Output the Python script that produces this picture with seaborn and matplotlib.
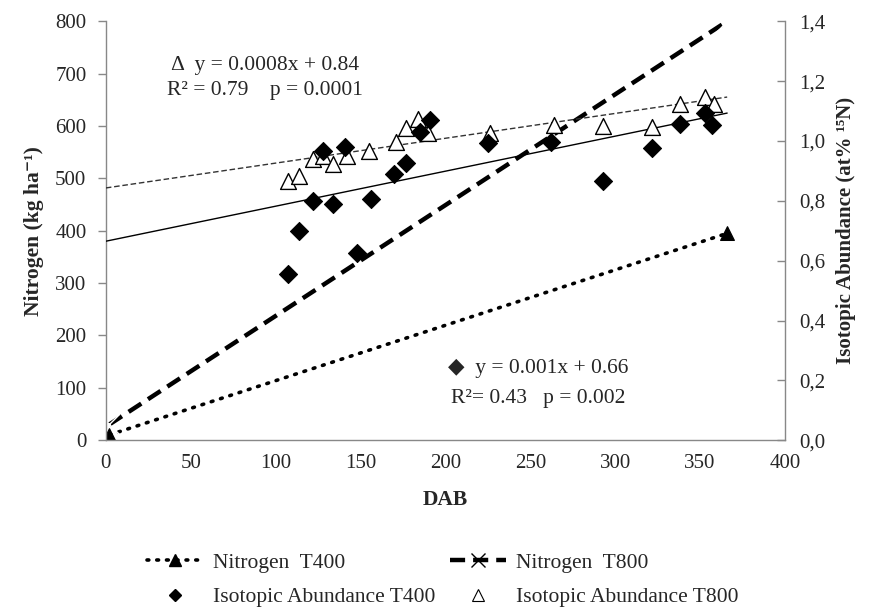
import numpy as np
import matplotlib
matplotlib.use("Agg")
import matplotlib.pyplot as plt
from matplotlib.lines import Line2D
from matplotlib.ticker import FuncFormatter
import seaborn as sns

# -----------------------------------------------------------------------------
# data
n_dab = [2, 366]
n_t400 = [10, 395]
n_t800 = [30, 800]

iso_t400_dab = [107, 114, 122, 128, 134, 141, 148, 156, 170, 177, 185, 191,
                225, 262, 293, 322, 338, 353, 357]
iso_t400 = [0.555, 0.70, 0.80, 0.966, 0.789, 0.98, 0.627, 0.805, 0.888, 0.926,
            1.03, 1.071, 0.993, 0.997, 0.866, 0.977, 1.058, 1.095, 1.055]

iso_t800_dab = [107, 114, 122, 128, 134, 142, 155, 171, 177, 184, 190,
                226, 264, 293, 322, 338, 353, 358]
iso_t800 = [0.866, 0.884, 0.941, 0.95, 0.922, 0.95, 0.967, 0.997, 1.045, 1.075,
            1.025, 1.025, 1.052, 1.05, 1.047, 1.125, 1.147, 1.125]

# trend lines (slope, intercept) and their x extent
trend_t400 = (0.00117, 0.665)
trend_t800 = (0.00083, 0.843)
trend_x = [0, 366]

# -----------------------------------------------------------------------------
sns.set_style("white")
plt.rcParams["font.family"] = ["Liberation Serif", "DejaVu Sans"]
plt.rcParams["font.size"] = 15

fig = plt.figure(figsize=(8.75, 6.08), dpi=100)
ax = fig.add_axes([0.121, 0.276, 0.776, 0.689])
ax2 = ax.twinx()

# nitrogen (left axis)
sns.lineplot(x=n_dab, y=n_t400, ax=ax, color="black", lw=2.6,
             linestyle=(0, (0.5, 2.2)), dash_capstyle="round",
             marker="^", markersize=10, markeredgecolor="black")
sns.lineplot(x=n_dab, y=n_t800, ax=ax, color="black", lw=3.2,
             linestyle=(0, (3.4, 1.8)), marker="x", markersize=14,
             markeredgewidth=1.0)

# trend lines (right axis)
tx = np.array(trend_x, dtype=float)
sns.lineplot(x=tx, y=trend_t400[0] * tx + trend_t400[1], ax=ax2,
             color="black", lw=1.0)
sns.lineplot(x=tx, y=trend_t800[0] * tx + trend_t800[1], ax=ax2,
             color="#333333", lw=1.0, linestyle=(0, (4, 2)))

# isotopic abundance (right axis)
sns.scatterplot(x=iso_t800_dab, y=iso_t800, ax=ax2, marker="^", s=130,
                facecolor="white", edgecolor="black", linewidth=1.0, zorder=3)
sns.scatterplot(x=iso_t400_dab, y=iso_t400, ax=ax2, marker="D", s=85,
                color="black", edgecolor="black", zorder=4)

# axes
ax.set_xlim(0, 400)
ax.set_ylim(0, 800)
ax2.set_ylim(0, 1.4)
ax.set_xticks(range(0, 401, 50))
ax.set_yticks(range(0, 801, 100))
ax2.set_yticks(np.arange(0, 1.41, 0.2))
ax2.yaxis.set_major_formatter(FuncFormatter(lambda v, p: f"{v:.1f}".replace(".", ",")))

for a in (ax, ax2):
    a.spines["top"].set_visible(False)
    for s in a.spines.values():
        s.set_color("#888888")
        s.set_linewidth(1.0)
ax.spines["right"].set_visible(False)
ax2.spines["left"].set_visible(False)
ax2.spines["bottom"].set_visible(False)

ax.tick_params(axis="both", direction="out", length=6, width=1,
               color="#888888", labelsize=15, pad=4)
ax.tick_params(axis="y", pad=8)
ax2.tick_params(axis="y", direction="in", length=6, width=1,
                color="#888888", labelsize=15, pad=10)

ax.set_xlabel("DAB", fontsize=15.5, fontweight="bold", labelpad=12)
ax.set_ylabel("Nitrogen (kg ha\u207b\u00b9)", fontsize=15.5, fontweight="bold", labelpad=8)
ax2.set_ylabel("Isotopic Abundance (at% \u00b9\u2075N)", fontsize=15,
               fontweight="bold", labelpad=8)

# equations
ax.text(0.234, 0.895, "\u0394  y = 0.0008x + 0.84", transform=ax.transAxes,
        ha="center", va="center", fontsize=15.5)
ax.text(0.234, 0.835, "R\u00b2 = 0.79    p = 0.0001", transform=ax.transAxes,
        ha="center", va="center", fontsize=15.5)
ax.text(0.637, 0.172, "\u25c6  y = 0.001x + 0.66", transform=ax.transAxes,
        ha="center", va="center", fontsize=15.5)
ax.text(0.637, 0.100, "R\u00b2= 0.43   p = 0.002", transform=ax.transAxes,
        ha="center", va="center", fontsize=15.5)

# legend
handles = [
    Line2D([], [], color="black", lw=2.6, linestyle=(0, (0.5, 2.2)),
           dash_capstyle="round", marker="^", markersize=9),
    Line2D([], [], color="black", marker="D", markersize=6, linestyle="none"),
    Line2D([], [], color="black", lw=3.2, linestyle=(0, (3.4, 1.8)),
           marker="x", markersize=10, markeredgewidth=1.0),
    Line2D([], [], color="black", marker="^", markersize=9, linestyle="none",
           markerfacecolor="white", markeredgewidth=0.8),
]
labels = ["Nitrogen  T400", "Isotopic Abundance T400",
          "Nitrogen  T800", "Isotopic Abundance T800"]
fig.legend(handles, labels, loc="center", bbox_to_anchor=(0.506, 0.046), ncol=2,
           frameon=False, fontsize=15.5, handlelength=2.6, columnspacing=0.7,
           labelspacing=0.68, handletextpad=0.45)

fig.savefig("out.png", dpi=100)
